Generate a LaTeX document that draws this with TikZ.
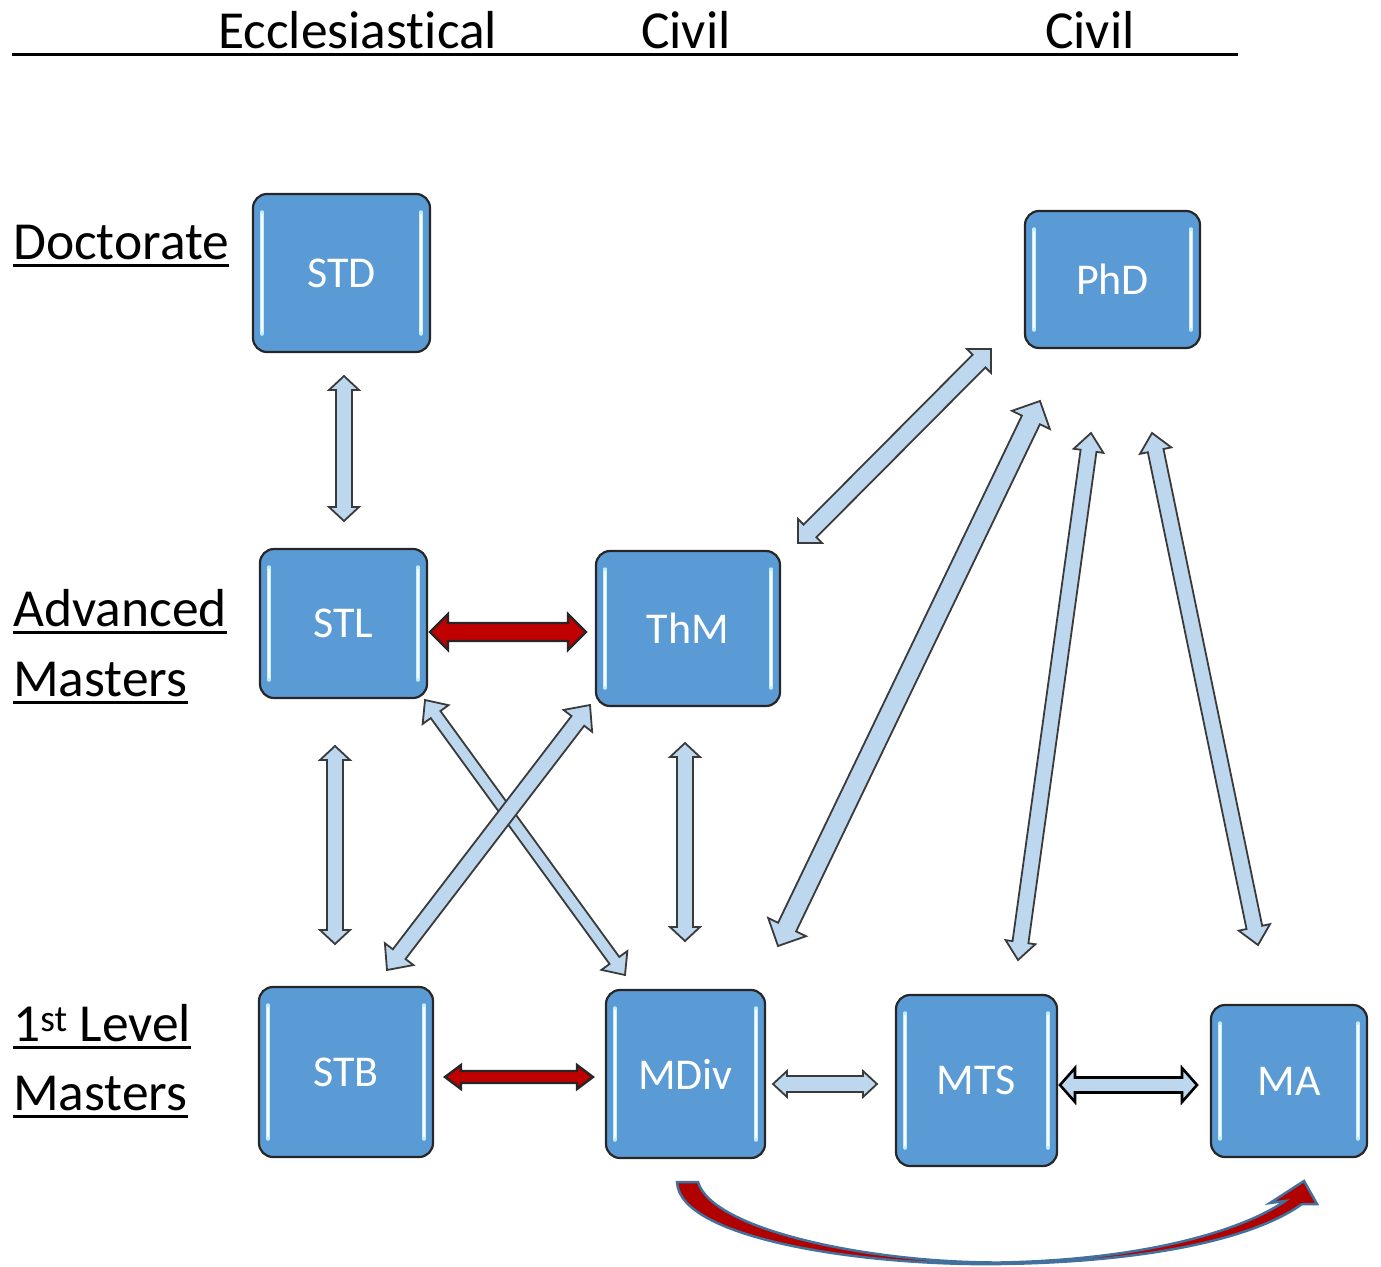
\documentclass[tikz,border=0pt]{standalone}
\usepackage{fontspec}
\setmainfont{Carlito}[Ligatures=NoCommon]
\usetikzlibrary{calc}
\definecolor{boxblue}{HTML}{5B9BD5}
\definecolor{boxedge}{HTML}{262626}
\definecolor{hl}{HTML}{C2EEFF}
\definecolor{arrfill}{HTML}{BDD7EE}
\definecolor{arredge}{HTML}{3A3A3A}
\definecolor{redfill}{HTML}{C00000}
\definecolor{curvered}{HTML}{B00000}
\definecolor{curveedge}{HTML}{41719C}

\newcommand\blockarrow[6]{%
 \coordinate (ba1) at ($(#2)!#6!(#3)$);
 \coordinate (ba2) at ($(#3)!#6!(#2)$);
 \draw[#1] (#2) -- ($(ba1)!#5!90:(#3)$) -- ($(ba1)!#4!90:(#3)$)
   -- ($(ba2)!#4!-90:(#2)$) -- ($(ba2)!#5!-90:(#2)$) -- (#3)
   -- ($(ba2)!#5!90:(#2)$) -- ($(ba2)!#4!90:(#2)$)
   -- ($(ba1)!#4!-90:(#3)$) -- ($(ba1)!#5!-90:(#3)$) -- cycle;}

\tikzset{
  degbox/.style={draw=boxedge, line width=2.2pt, rounded corners=14pt, fill=boxblue,
    text=white, font=\fontsize{44}{52}\selectfont, inner sep=0pt,
    path picture={
      \draw[hl, line width=3.5pt, line cap=round]
        ([xshift=9pt,yshift=-18pt]path picture bounding box.north west) --
        ([xshift=9pt,yshift=18pt]path picture bounding box.south west);
      \draw[hl, line width=3.5pt, line cap=round]
        ([xshift=-9pt,yshift=-18pt]path picture bounding box.north east) --
        ([xshift=-9pt,yshift=18pt]path picture bounding box.south east);
      \draw[white, line width=1.2pt]
        ([xshift=9pt,yshift=-20pt]path picture bounding box.north west) --
        ([xshift=9pt,yshift=20pt]path picture bounding box.south west);
      \draw[white, line width=1.2pt]
        ([xshift=-9pt,yshift=-20pt]path picture bounding box.north east) --
        ([xshift=-9pt,yshift=20pt]path picture bounding box.south east);
    }},
  rowlabel/.style={anchor=base west, inner sep=0pt, font=\fontsize{53.5}{62}\selectfont},
  headlabel/.style={anchor=base west, inner sep=0pt, font=\fontsize{53.5}{62}\selectfont},
  lightarr/.style={fill=arrfill, draw=arredge, line width=1.8pt, line join=miter},
  darkarr/.style={fill=arrfill, draw=black, line width=2.6pt, line join=miter},
  redarr/.style={fill=redfill, draw=black!85, line width=2.4pt, line join=miter},
  uline/.style={line width=3pt}
}

\begin{document}
\begin{tikzpicture}[x=1pt, y=-1pt]
\useasboundingbox (0,0) rectangle (1381,1266);

% header
\node[headlabel] (hEcc) at (218,48) {Ecclesiastical};
\node[headlabel] (hCiv1) at (641,48) {Civil};
\node[headlabel] (hCiv2) at (1045,48) {Civil};
\coordinate (hl1) at (12,54);
\coordinate (hl2) at (1238,54);
\draw[uline] (hl1) -- (hl2);

% row labels
\node[rowlabel] (rDoc) at (13,259) {Doctorate};
\node[rowlabel] (rAdv) at (13,626) {Advanced};
\node[rowlabel] (rAdvM) at (13,696) {Masters};
\node[rowlabel] (rFirst) at (13,1041) {1\textsuperscript{st} Level};
\node[rowlabel] (rFirstM) at (13,1110) {Masters};
\foreach \n in {rDoc,rAdv,rAdvM,rFirst,rFirstM}
  \draw[uline] ([yshift=-6pt]\n.base west) -- ([yshift=-6pt]\n.base east);

% boxes
\node[degbox, minimum width=177pt, minimum height=158pt] (STD) at (341.5,273) {STD};
\node[degbox, minimum width=175pt, minimum height=137pt] (PhD) at (1112.5,279.5) {PhD};
\node[degbox, minimum width=167pt, minimum height=149pt] (STL) at (343.5,623.5) {STL};
\node[degbox, minimum width=184pt, minimum height=155pt] (ThM) at (688,628.5) {ThM};
\node[degbox, minimum width=174pt, minimum height=170pt] (STB) at (346,1072) {STB};
\node[degbox, minimum width=159pt, minimum height=168pt] (MDiv) at (685.5,1074) {MDiv};
\node[degbox, minimum width=161pt, minimum height=171pt] (MTS) at (976.5,1080.5) {MTS};
\node[degbox, minimum width=156pt, minimum height=152pt] (MA) at (1289,1081) {MA};

% arrow end points
\coordinate (a1s) at (344,376);  \coordinate (a1e) at (344,521);
\coordinate (a2s) at (335,746);  \coordinate (a2e) at (335,944);
\coordinate (a3s) at (685,743);  \coordinate (a3e) at (685,941);
\coordinate (a4s) at (430,632);  \coordinate (a4e) at (586,632);
\coordinate (a5s) at (445,1077); \coordinate (a5e) at (593,1077);
\coordinate (a6s) at (773,1084); \coordinate (a6e) at (877,1084);
\coordinate (a7s) at (1060,1085); \coordinate (a7e) at (1197,1085);
\coordinate (a8s) at (387,970);  \coordinate (a8e) at (590,705);
\coordinate (a9s) at (425,700);  \coordinate (a9e) at (625,975);
\coordinate (a10s) at (798,543); \coordinate (a10e) at (991,349);
\coordinate (a11s) at (778,946); \coordinate (a11e) at (1040,401);
\coordinate (a12s) at (1018,960); \coordinate (a12e) at (1091,433);
\coordinate (a13s) at (1258,945); \coordinate (a13e) at (1152,433);

\blockarrow{lightarr}{a1s}{a1e}{8pt}{15pt}{14pt}
\blockarrow{lightarr}{a2s}{a2e}{8pt}{15pt}{14pt}
\blockarrow{lightarr}{a3s}{a3e}{8pt}{15pt}{14pt}
\blockarrow{redarr}{a4s}{a4e}{9pt}{18pt}{18pt}
\blockarrow{redarr}{a5s}{a5e}{6pt}{12pt}{16pt}
\blockarrow{lightarr}{a6s}{a6e}{8pt}{13pt}{14pt}
\blockarrow{darkarr}{a7s}{a7e}{7.5pt}{17pt}{15pt}
\blockarrow{lightarr}{a9s}{a9e}{6pt}{16pt}{18pt}
\blockarrow{lightarr}{a8s}{a8e}{8pt}{18pt}{20pt}
\blockarrow{lightarr}{a10s}{a10e}{9pt}{17pt}{17pt}
\blockarrow{lightarr}{a11s}{a11e}{10pt}{21pt}{21pt}
\blockarrow{lightarr}{a12s}{a12e}{8pt}{15pt}{18pt}
\blockarrow{lightarr}{a13s}{a13e}{8pt}{16pt}{18pt}

% curved arrow MDiv -> MA
\coordinate (cs1) at (677,1182);
\coordinate (cs2) at (698,1182);
\coordinate (ctip) at (1304,1181);
\fill[curvered, draw=curveedge, line width=2.5pt, line join=miter]
  (cs1) .. controls (679,1238) and (860,1266) .. (1000,1264)
  .. controls (1150,1262) and (1255,1238) .. (1302,1204)
  -- (1317,1204) -- (ctip) -- (1270,1203) -- (1285,1201)
  .. controls (1240,1232) and (1140,1260) .. (1000,1262.5)
  .. controls (870,1263) and (712,1230) .. (cs2) -- cycle;
\end{tikzpicture}
\end{document}
